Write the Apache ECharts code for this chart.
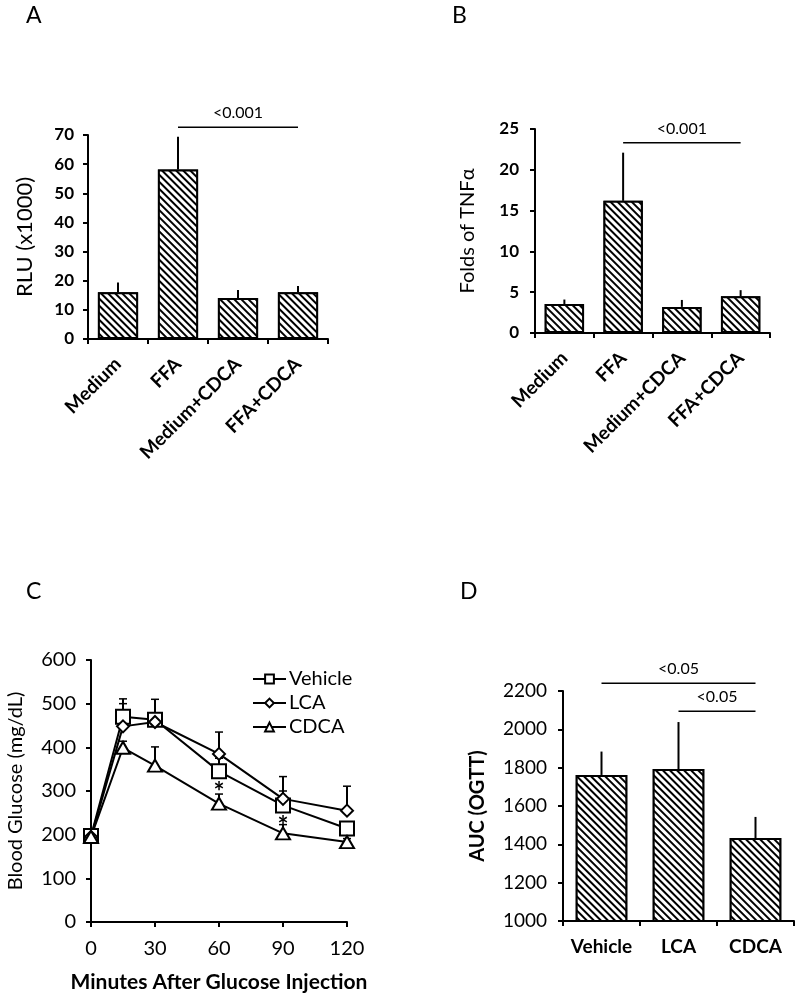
<!DOCTYPE html>
<html><head><meta charset="utf-8">
<script src="https://cdn.jsdelivr.net/npm/echarts@6/dist/echarts.min.js"></script>
<style>html,body{margin:0;padding:0;background:#fff}#c{width:800px;height:994px}</style>
</head><body><div id="c"></div>
<script>
// ---------- Panel A ----------
const catsAB = ['Medium', 'FFA', 'Medium+CDCA', 'FFA+CDCA'];
const rluMean = [16, 58.2, 14.1, 16];
const rluErr = [3.4, 11.2, 2.7, 2.2];
const sigA = [[1, 3, 72.7]];
const sigAText = ['<0.001'];
// ---------- Panel B ----------
const tnfMean = [3.55, 16.2, 3.2, 4.5];
const tnfErr = [0.55, 5.9, 0.85, 0.75];
const sigB = [[1, 3, 23.3]];
const sigBText = ['<0.001'];
// ---------- Panel C ----------
const minutes = [0, 15, 30, 60, 90, 120];
const vehicle = [197, 470, 463, 345, 267, 214];
const lca = [195, 448, 458, 385, 282, 255];
const cdca = [195, 399, 358, 271, 203, 183];
const vehicleErr = [5, 41, 47, 30, 33, 12];
const lcaErr = [5, 52, 10, 50, 51, 56];
const cdcaErr = [5, 15, 43, 22, 20, 8];
const starMinutes = [60, 90];
const starLevels = [310, 232];
// ---------- Panel D ----------
const catsD = ['Vehicle', 'LCA', 'CDCA'];
const aucMean = [1762, 1793, 1433];
const aucErr = [122, 245, 110];
const sigD = [[0, 2, 2241], [1, 2, 2095]];
const sigDText = ['<0.05', '<0.05'];

const FF = 'Lato, "Open Sans", sans-serif';
const chart = echarts.init(document.getElementById('c'), null, {renderer: 'canvas'});

const hatch = {
  symbol: 'rect', symbolSize: 1, color: '#000', backgroundColor: '#fff',
  dashArrayX: [1, 0], dashArrayY: [1.6, 2.1], rotation: Math.PI / 4
};
const barStyle = {color: '#fff', borderColor: '#000', borderWidth: 2, decal: hatch};

function axisLineCfg() { return {show: true, lineStyle: {color: '#000', width: 2}}; }
function tickCfg() { return {show: true, length: 5, lineStyle: {color: '#000', width: 2}}; }
const plain = v => String(v);

function errRender(cap) {
  return function (params, api) {
    const x = api.value(0), y = api.value(1), e = api.value(2);
    const p0 = api.coord([x, y]);
    const p1 = api.coord([x, y + e]);
    const ch = [{type: 'line', shape: {x1: p0[0], y1: p0[1], x2: p1[0], y2: p1[1]}, style: {stroke: '#000', lineWidth: 2}}];
    if (cap) ch.push({type: 'line', shape: {x1: p1[0] - 4, y1: p1[1], x2: p1[0] + 4, y2: p1[1]}, style: {stroke: '#000', lineWidth: 1.5}});
    return {type: 'group', children: ch};
  };
}
function sigRender(texts) {
  return function (params, api) {
    const p1 = api.coord([api.value(0), api.value(2)]);
    const p2 = api.coord([api.value(1), api.value(2)]);
    return {type: 'group', children: [
      {type: 'line', shape: {x1: p1[0], y1: p1[1], x2: p2[0], y2: p2[1]}, style: {stroke: '#000', lineWidth: 1.5}},
      {type: 'text', x: (p1[0] + p2[0]) / 2, y: p1[1] - 6,
       style: {text: texts[params.dataIndex], align: 'center', verticalAlign: 'bottom', fontSize: 16, fill: '#000', fontFamily: FF}}
    ]};
  };
}
const T = (t, l, tp) => ({text: t, left: l, top: tp, padding: 0, textStyle: {fontSize: 23, fontWeight: 'normal', color: '#000', fontFamily: FF}});

const option = {
  animation: false,
  backgroundColor: '#fff',
  title: [T('A', 26, 4), T('B', 452, 4), T('C', 26, 580), T('D', 460, 580)],
  legend: {
    data: ['Vehicle', 'LCA', 'CDCA'], orient: 'vertical', left: 247, top: 664,
    itemWidth: 33, itemHeight: 11, itemGap: 4,
    textStyle: {fontSize: 20, color: '#000', fontFamily: FF, padding: [0, 0, 0, -2]}
  },
  grid: [
    {left: 88, top: 135, width: 240, height: 204},
    {left: 535, top: 129, width: 235, height: 204},
    {left: 91, top: 660, width: 256, height: 264},
    {left: 563, top: 691, width: 231, height: 230}
  ],
  xAxis: [
    {type: 'category', gridIndex: 0, data: catsAB, axisLine: axisLineCfg(), axisTick: tickCfg(),
     axisLabel: {rotate: 45, interval: 0, fontSize: 19, fontWeight: 'bold', color: '#000', fontFamily: FF, margin: 22}},
    {type: 'category', gridIndex: 1, data: catsAB, axisLine: axisLineCfg(), axisTick: tickCfg(),
     axisLabel: {rotate: 45, interval: 0, fontSize: 19, fontWeight: 'bold', color: '#000', fontFamily: FF, margin: 22}},
    {type: 'value', gridIndex: 2, min: 0, max: 120, interval: 30, axisLine: axisLineCfg(), axisTick: tickCfg(),
     splitLine: {show: false},
     axisLabel: {fontSize: 20, color: '#000', fontFamily: FF, margin: 17, formatter: plain},
     name: 'Minutes After Glucose Injection', nameLocation: 'middle', nameGap: 50,
     nameTextStyle: {fontSize: 21, fontWeight: 'bold', color: '#000', fontFamily: FF}},
    {type: 'category', gridIndex: 3, data: catsD, axisLine: axisLineCfg(), axisTick: tickCfg(),
     axisLabel: {interval: 0, fontSize: 19, fontWeight: 'bold', color: '#000', fontFamily: FF, margin: 16}}
  ],
  yAxis: [
    {type: 'value', gridIndex: 0, min: 0, max: 70, interval: 10, axisLine: axisLineCfg(), axisTick: tickCfg(),
     splitLine: {show: false}, axisLabel: {fontSize: 17, fontWeight: 'bold', color: '#000', fontFamily: FF, margin: 14, formatter: plain},
     name: 'RLU (x1000)', nameLocation: 'middle', nameGap: 52,
     nameTextStyle: {fontSize: 22, color: '#000', fontFamily: FF}},
    {type: 'value', gridIndex: 1, min: 0, max: 25, interval: 5, axisLine: axisLineCfg(), axisTick: tickCfg(),
     splitLine: {show: false}, axisLabel: {fontSize: 17, fontWeight: 'bold', color: '#000', fontFamily: FF, margin: 16, formatter: plain},
     name: 'Folds of TNF\u03b1', nameLocation: 'middle', nameGap: 57,
     nameTextStyle: {fontSize: 20, color: '#000', fontFamily: FF}},
    {type: 'value', gridIndex: 2, min: 0, max: 600, interval: 100, axisLine: axisLineCfg(), axisTick: tickCfg(),
     splitLine: {show: false}, axisLabel: {fontSize: 20, color: '#000', fontFamily: FF, margin: 15, formatter: plain},
     name: 'Blood Glucose (mg/dL)', nameLocation: 'middle', nameGap: 65,
     nameTextStyle: {fontSize: 20, color: '#000', fontFamily: FF}},
    {type: 'value', gridIndex: 3, min: 1000, max: 2200, interval: 200, axisLine: axisLineCfg(), axisTick: tickCfg(),
     splitLine: {show: false}, axisLabel: {fontSize: 19, color: '#000', fontFamily: FF, margin: 16, formatter: plain},
     name: 'AUC (OGTT)', nameLocation: 'middle', nameGap: 75,
     nameTextStyle: {fontSize: 20, fontWeight: 'bold', color: '#000', fontFamily: FF}}
  ],
  series: [
    // A
    {type: 'bar', xAxisIndex: 0, yAxisIndex: 0, data: rluMean, barCategoryGap: '33%', itemStyle: barStyle},
    {type: 'custom', xAxisIndex: 0, yAxisIndex: 0, encode: {x: 0, y: 1}, z: 1,
     data: rluMean.map((v, i) => [i, v, rluErr[i]]), renderItem: errRender(false)},
    {type: 'custom', xAxisIndex: 0, yAxisIndex: 0, encode: {x: 0, y: 2}, data: sigA, renderItem: sigRender(sigAText)},
    // B
    {type: 'bar', xAxisIndex: 1, yAxisIndex: 1, data: tnfMean, barCategoryGap: '33%', itemStyle: barStyle},
    {type: 'custom', xAxisIndex: 1, yAxisIndex: 1, encode: {x: 0, y: 1}, z: 1,
     data: tnfMean.map((v, i) => [i, v, tnfErr[i]]), renderItem: errRender(false)},
    {type: 'custom', xAxisIndex: 1, yAxisIndex: 1, encode: {x: 0, y: 2}, data: sigB, renderItem: sigRender(sigBText)},
    // C
    {type: 'custom', xAxisIndex: 2, yAxisIndex: 2, encode: {x: 0, y: 1}, z: 1,
     data: minutes.map((m, i) => [m, vehicle[i], vehicleErr[i]]), renderItem: errRender(true)},
    {type: 'custom', xAxisIndex: 2, yAxisIndex: 2, encode: {x: 0, y: 1}, z: 1,
     data: minutes.map((m, i) => [m, lca[i], lcaErr[i]]), renderItem: errRender(true)},
    {type: 'custom', xAxisIndex: 2, yAxisIndex: 2, encode: {x: 0, y: 1}, z: 1,
     data: minutes.map((m, i) => [m, cdca[i], cdcaErr[i]]), renderItem: errRender(true)},
    {name: 'Vehicle', type: 'line', xAxisIndex: 2, yAxisIndex: 2, z: 3,
     data: minutes.map((m, i) => [m, vehicle[i]]), symbol: 'rect', symbolSize: 14, showAllSymbol: true,
     lineStyle: {color: '#000', width: 2}, itemStyle: {color: '#fff', borderColor: '#000', borderWidth: 2}},
    {name: 'LCA', type: 'line', xAxisIndex: 2, yAxisIndex: 2, z: 3,
     data: minutes.map((m, i) => [m, lca[i]]), symbol: 'diamond', symbolSize: 12, showAllSymbol: true,
     lineStyle: {color: '#000', width: 2}, itemStyle: {color: '#fff', borderColor: '#000', borderWidth: 2}},
    {name: 'CDCA', type: 'line', xAxisIndex: 2, yAxisIndex: 2, z: 3,
     data: minutes.map((m, i) => [m, cdca[i]]), symbol: 'triangle', symbolSize: [14, 12], showAllSymbol: true,
     lineStyle: {color: '#000', width: 2}, itemStyle: {color: '#fff', borderColor: '#000', borderWidth: 2}},
    {type: 'custom', xAxisIndex: 2, yAxisIndex: 2, encode: {x: 0, y: 1}, z: 4,
     data: starMinutes.map((m, i) => [m, starLevels[i]]),
     renderItem: function (params, api) {
       const p = api.coord([api.value(0), api.value(1)]);
       return {type: 'text', x: p[0], y: p[1] + 6,
               style: {text: '*', align: 'center', verticalAlign: 'middle', fontSize: 26, fontWeight: 'bold', fill: '#000', fontFamily: FF}};
     }},
    // D
    {type: 'bar', xAxisIndex: 3, yAxisIndex: 3, data: aucMean, barCategoryGap: '33%', itemStyle: barStyle},
    {type: 'custom', xAxisIndex: 3, yAxisIndex: 3, encode: {x: 0, y: 1}, z: 1,
     data: aucMean.map((v, i) => [i, v, aucErr[i]]), renderItem: errRender(false)},
    {type: 'custom', xAxisIndex: 3, yAxisIndex: 3, encode: {x: 0, y: 2}, data: sigD, renderItem: sigRender(sigDText)}
  ]
};
chart.setOption(option);
</script></body></html>
